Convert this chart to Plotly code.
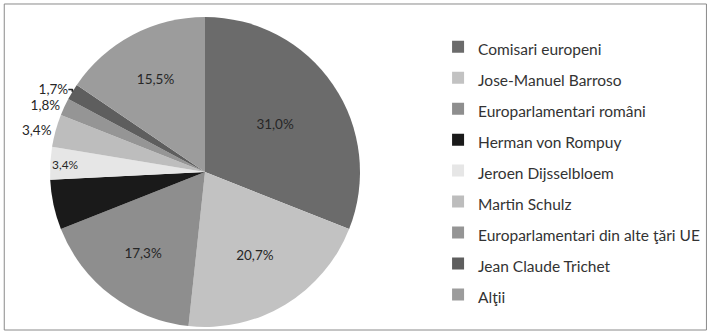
import plotly.graph_objects as go

# Survey shares (%), clockwise from 12 o'clock
categories = [
    "Comisari europeni",
    "Jose-Manuel Barroso",
    "Europarlamentari români",
    "Herman von Rompuy",
    "Jeroen Dijsselbloem",
    "Martin Schulz",
    "Europarlamentari din alte ţări UE",
    "Jean Claude Trichet",
    "Alţii",
]
shares = [31.0, 20.7, 17.3, 5.2, 3.4, 3.4, 1.8, 1.7, 15.5]
slice_colors = ["#6b6b6b", "#c2c2c2", "#8e8e8e", "#1a1a1a", "#e6e6e6",
                "#bdbdbd", "#959595", "#5e5e5e", "#9c9c9c"]
label_pos = ["inside", "inside", "inside", "none", "inside",
             "outside", "outside", "outside", "inside"]

labels_text = [f"{v:.1f}%".replace(".", ",") for v in shares]
labels_text[3] = ""

W, H = 710, 333
cx, cy, r = 205, 172, 155

legend_fmt = '<span style="font-size:15.5px">%s</span>'

fig = go.Figure(go.Pie(
    labels=[legend_fmt % c for c in categories],
    values=shares,
    text=labels_text,
    textinfo="text",
    textposition=label_pos,
    insidetextorientation="horizontal",
    sort=False,
    direction="clockwise",
    rotation=0,
    marker=dict(colors=slice_colors, line=dict(width=0)),
    textfont=dict(family="Lato", size=13.5, color="#262626"),
    outsidetextfont=dict(family="Lato", size=13.5, color="#262626"),
    domain=dict(x=[(cx - r) / W, (cx + r) / W],
                y=[(H - cy - r) / H, (H - cy + r) / H]),
    hoverinfo="percent",
))

fig.update_layout(
    width=W, height=H,
    margin=dict(l=0, r=0, t=0, b=0),
    paper_bgcolor="white",
    plot_bgcolor="white",
    showlegend=True,
    legend=dict(
        x=0.617, y=0.921, xanchor="left", yanchor="top",
        font=dict(family="Lato", size=21.5, color="#333333"),
        itemwidth=30,
        bgcolor="rgba(0,0,0,0)",
    ),
    shapes=[dict(type="rect", xref="paper", yref="paper",
                 x0=0.006, x1=0.995, y0=0.009, y1=0.988,
                 line=dict(color="#8a8a8a", width=1))],
)

fig.write_html("out.html")
